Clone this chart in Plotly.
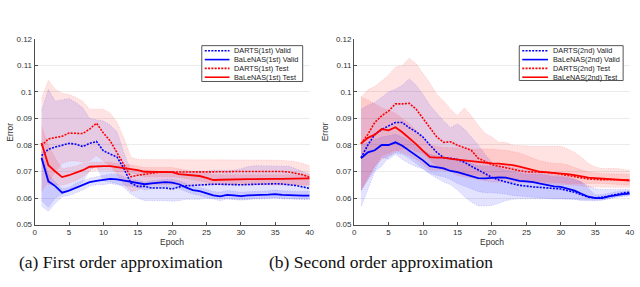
import plotly.graph_objects as go

W, H = 640, 287
epochs = list(range(1, 41))

# ---------------- First order (left) ----------------
darts1_valid = [0.0760,0.0784,0.0792,0.0799,0.0806,0.0803,0.0794,0.0806,0.0813,0.0778,
                0.0765,0.0754,0.0710,0.0656,0.0644,0.0644,0.0638,0.0638,0.0638,0.0634,
                0.0642,0.0646,0.0648,0.0650,0.0651,0.0652,0.0652,0.0651,0.0650,0.0650,
                0.0651,0.0652,0.0653,0.0654,0.0654,0.0653,0.0651,0.0647,0.0642,0.0636]
darts1_valid_hi = [0.093,0.101,0.0965,0.097,0.0975,0.096,0.094,0.090,0.0895,0.089,
                   0.0875,0.085,0.077,0.0705,0.0705,0.0705,0.070,0.070,0.070,0.070,
                   0.070,0.070,0.070,0.070,0.0702,0.0705,0.0705,0.0705,0.0705,0.071,
                   0.0718,0.0722,0.0722,0.0722,0.0722,0.0722,0.072,0.071,0.070,0.069]
darts1_valid_lo = [0.059,0.0565,0.060,0.0615,0.063,0.0645,0.066,0.0705,0.072,0.0665,
                   0.066,0.0655,0.064,0.0615,0.060,0.059,0.059,0.059,0.059,0.0588,
                   0.059,0.0595,0.0595,0.0595,0.0598,0.0598,0.0598,0.0598,0.0595,0.0595,
                   0.0595,0.0598,0.060,0.060,0.060,0.060,0.0598,0.0595,0.0595,0.0595]

bal1_valid = [0.0752,0.0663,0.0645,0.0620,0.0628,0.0638,0.0648,0.0660,0.0665,0.0668,
              0.0672,0.0670,0.0665,0.0660,0.0657,0.0652,0.0655,0.0658,0.0660,0.0658,
              0.0652,0.0640,0.0630,0.0626,0.0618,0.0610,0.0606,0.0612,0.0610,0.0607,
              0.0610,0.0612,0.0612,0.0613,0.0615,0.0612,0.0610,0.0610,0.0609,0.0609]
bal1_valid_hi = [0.0775,0.069,0.066,0.0635,0.064,0.0655,0.0665,0.0675,0.068,0.0685,
                 0.069,0.069,0.068,0.067,0.0668,0.066,0.0665,0.0668,0.067,0.067,
                 0.0665,0.0655,0.0645,0.064,0.0632,0.0625,0.0622,0.0628,0.0626,0.0622,
                 0.0624,0.0626,0.0626,0.0627,0.063,0.0627,0.0625,0.0625,0.0625,0.0625]
bal1_valid_lo = [0.057,0.055,0.058,0.0605,0.061,0.062,0.063,0.0645,0.065,0.065,
                 0.0655,0.065,0.0648,0.0645,0.064,0.063,0.0635,0.064,0.064,0.064,
                 0.0635,0.0625,0.0615,0.061,0.0602,0.0595,0.059,0.0596,0.0594,0.0592,
                 0.0594,0.0596,0.0596,0.0597,0.060,0.0597,0.0595,0.0595,0.0595,0.0595]

darts1_test = [0.0797,0.0823,0.0828,0.0833,0.0845,0.0844,0.0843,0.0860,0.0882,0.0845,
               0.0815,0.0770,0.0724,0.0680,0.0686,0.0690,0.0695,0.0697,0.0698,0.0698,
               0.0697,0.0697,0.0697,0.0698,0.0699,0.0699,0.0699,0.0699,0.0700,0.0700,
               0.0701,0.0701,0.0701,0.0701,0.0701,0.0700,0.0698,0.0694,0.0688,0.0678]
darts1_test_hi = [0.0975,0.1044,0.101,0.0995,0.099,0.098,0.0965,0.0935,0.0935,0.0935,
                  0.092,0.0885,0.0825,0.0755,0.0745,0.0745,0.0745,0.0745,0.0745,0.0745,
                  0.0745,0.0745,0.0745,0.0745,0.0744,0.0743,0.0743,0.0743,0.0743,0.0743,
                  0.0743,0.0743,0.0743,0.0743,0.0743,0.0742,0.074,0.0737,0.073,0.0722]
darts1_test_lo = [0.0625,0.066,0.070,0.073,0.074,0.074,0.0735,0.074,0.076,0.074,
                  0.072,0.069,0.065,0.0625,0.063,0.0645,0.065,0.065,0.065,0.065,
                  0.065,0.065,0.065,0.065,0.065,0.065,0.065,0.065,0.065,0.065,
                  0.065,0.065,0.065,0.065,0.065,0.065,0.065,0.065,0.0648,0.0645]

bal1_test = [0.0808,0.0724,0.0700,0.0679,0.0686,0.0695,0.0705,0.0718,0.0720,0.0720,
             0.0720,0.0716,0.0713,0.0710,0.0705,0.0699,0.0699,0.0699,0.0699,0.0698,
             0.0690,0.0688,0.0686,0.0683,0.0676,0.0668,0.0669,0.0670,0.0670,0.0671,
             0.0671,0.0671,0.0672,0.0672,0.0672,0.0672,0.0673,0.0673,0.0673,0.0674]
bal1_test_hi = [0.087,0.080,0.075,0.071,0.0715,0.072,0.073,0.0735,0.0735,0.0735,
                0.0735,0.073,0.0725,0.0725,0.072,0.0715,0.0715,0.0715,0.0715,0.0715,
                0.071,0.0705,0.070,0.0698,0.0695,0.0688,0.0688,0.0688,0.0688,0.0688,
                0.0688,0.0688,0.0688,0.0688,0.0688,0.0688,0.0688,0.0688,0.0688,0.0688]
bal1_test_lo = [0.0745,0.065,0.065,0.0648,0.0655,0.0665,0.068,0.070,0.0705,0.0705,
                0.0705,0.070,0.070,0.0695,0.069,0.068,0.068,0.068,0.068,0.068,
                0.0678,0.0675,0.067,0.0665,0.066,0.065,0.065,0.065,0.065,0.065,
                0.065,0.065,0.065,0.065,0.065,0.065,0.065,0.065,0.065,0.065]

# ---------------- Second order (right) ----------------
darts2_valid = [0.0752,0.0800,0.0840,0.0858,0.0872,0.0885,0.0885,0.0865,0.0850,0.0830,
                0.0800,0.0772,0.0752,0.0750,0.0745,0.0735,0.0720,0.0705,0.0690,0.0678,
                0.0668,0.0660,0.0654,0.0648,0.0644,0.0642,0.0640,0.0637,0.0636,0.0634,
                0.0628,0.0622,0.0612,0.0603,0.0601,0.0603,0.0608,0.0614,0.0619,0.0622]
darts2_valid_hi = [0.0935,0.095,0.096,0.098,0.100,0.101,0.1025,0.105,0.1025,0.099,
                   0.095,0.092,0.089,0.0865,0.088,0.086,0.083,0.080,0.0765,0.0735,
                   0.0715,0.0705,0.070,0.0695,0.069,0.069,0.069,0.0685,0.068,0.068,
                   0.0675,0.067,0.066,0.0645,0.0635,0.0632,0.0632,0.0632,0.0632,0.0633]
darts2_valid_lo = [0.0565,0.063,0.070,0.072,0.0755,0.077,0.0765,0.075,0.073,0.071,
                   0.069,0.0675,0.066,0.065,0.063,0.0605,0.0585,0.057,0.057,0.0572,
                   0.058,0.059,0.0595,0.0597,0.0598,0.0598,0.0598,0.0598,0.0598,0.0598,
                   0.0597,0.0595,0.059,0.059,0.059,0.0592,0.0597,0.0603,0.0608,0.0612]

bal2_valid = [0.0750,0.0772,0.0780,0.0800,0.0800,0.0810,0.0797,0.0778,0.0762,0.0742,
              0.0720,0.0715,0.0712,0.0702,0.0698,0.0690,0.0682,0.0675,0.0674,0.0676,
              0.0678,0.0677,0.0670,0.0665,0.0663,0.0660,0.0654,0.0648,0.0644,0.0642,
              0.0635,0.0628,0.0616,0.0605,0.0600,0.0600,0.0606,0.0611,0.0615,0.0617]
bal2_valid_hi = [0.080,0.081,0.082,0.083,0.0835,0.084,0.083,0.0815,0.080,0.078,
                 0.0765,0.0758,0.0755,0.075,0.0748,0.074,0.0732,0.0722,0.072,0.072,
                 0.0722,0.0722,0.0715,0.071,0.0705,0.070,0.0695,0.069,0.0688,0.0685,
                 0.068,0.0672,0.066,0.0635,0.0612,0.0612,0.0618,0.0624,0.0626,0.0627]
bal2_valid_lo = [0.0625,0.067,0.0705,0.0755,0.0745,0.0765,0.0745,0.073,0.0718,0.071,
                 0.0695,0.0685,0.068,0.067,0.0655,0.0645,0.0635,0.0625,0.062,0.062,
                 0.0618,0.0615,0.061,0.0607,0.0605,0.0603,0.060,0.0598,0.0596,0.0595,
                 0.0595,0.0595,0.0594,0.0592,0.0592,0.0593,0.0598,0.0604,0.0607,0.0608]

darts2_test = [0.0805,0.0840,0.0885,0.0910,0.0928,0.0955,0.0955,0.0957,0.0935,0.0900,
               0.0868,0.0830,0.0810,0.0812,0.0799,0.0790,0.0780,0.0750,0.0738,0.0726,
               0.0720,0.0714,0.0708,0.0703,0.0699,0.0699,0.0699,0.0697,0.0694,0.0689,
               0.0685,0.0681,0.0676,0.0672,0.0670,0.0669,0.0669,0.0669,0.0669,0.0669]
darts2_test_hi = [0.098,0.1008,0.102,0.104,0.1063,0.1094,0.110,0.1127,0.1106,0.107,
                  0.1033,0.099,0.0966,0.0935,0.091,0.094,0.091,0.0875,0.0844,0.083,
                  0.081,0.081,0.0799,0.0798,0.0796,0.0795,0.0795,0.0795,0.0795,0.0795,
                  0.0785,0.0772,0.0754,0.073,0.0717,0.0711,0.0711,0.0712,0.0708,0.0705]
darts2_test_lo = [0.063,0.067,0.072,0.0745,0.076,0.0775,0.0785,0.079,0.0775,0.077,
                  0.0745,0.072,0.0705,0.070,0.0685,0.068,0.0675,0.067,0.0665,0.066,
                  0.066,0.066,0.066,0.066,0.0658,0.0656,0.0655,0.0655,0.0652,0.065,
                  0.065,0.0648,0.0645,0.0642,0.064,0.064,0.064,0.064,0.064,0.064]

bal2_test = [0.0805,0.0827,0.0839,0.0860,0.0855,0.0867,0.0848,0.0827,0.0803,0.0778,
             0.0754,0.0752,0.0752,0.0748,0.0746,0.0742,0.0739,0.0736,0.0734,0.0731,
             0.0730,0.0728,0.0724,0.0718,0.0711,0.0705,0.0699,0.0697,0.0695,0.0693,
             0.0690,0.0686,0.0681,0.0677,0.0675,0.0673,0.0672,0.0670,0.0667,0.0666]
bal2_test_hi = [0.098,0.097,0.0955,0.094,0.093,0.092,0.090,0.088,0.0855,0.0825,
                0.080,0.0795,0.079,0.079,0.079,0.0788,0.0785,0.0785,0.0785,0.0785,
                0.0782,0.078,0.0775,0.077,0.076,0.075,0.074,0.0735,0.073,0.073,
                0.0725,0.0715,0.0705,0.0698,0.0695,0.0692,0.0692,0.0692,0.0692,0.069]
bal2_test_lo = [0.063,0.068,0.072,0.076,0.077,0.078,0.077,0.076,0.0745,0.0725,
                0.0705,0.0705,0.0705,0.0703,0.070,0.0695,0.069,0.0685,0.068,0.068,
                0.068,0.0678,0.0672,0.0665,0.0662,0.066,0.066,0.066,0.066,0.0658,
                0.0655,0.0655,0.0655,0.0655,0.0655,0.0655,0.0655,0.0652,0.065,0.0648]

y_ticks = [0.05, 0.06, 0.07, 0.08, 0.09, 0.10, 0.11, 0.12]
y_tick_text = ["0.05", "0.06", "0.07", "0.08", "0.09", "0.1", "0.11", "0.12"]
x_ticks = [0, 5, 10, 15, 20, 25, 30, 35, 40]

legend_left = ["DARTS(1st) Valid", "BaLeNAS(1st) Valid", "DARTS(1st) Test", "BaLeNAS(1st) Test"]
legend_right = ["DARTS(2nd) Valid", "BaLeNAS(2nd) Valid", "DARTS(2nd) Test", "BaLeNAS(2nd) Test"]
captions = ["(a) First order approximation", "(b) Second order approximation"]

BLUE = "rgb(0,0,255)"
RED = "rgb(255,0,0)"
BLUE_FILL = "rgba(0,0,255,0.11)"
RED_FILL = "rgba(255,0,0,0.11)"
BLUE_EDGE = "rgba(90,90,255,0.4)"
RED_EDGE = "rgba(255,90,90,0.4)"
DOT = "2px,1.3px"


def px(x):
    return x / W


def py(y):
    return 1 - y / H


fig = go.Figure()


def add_band(xa, ya, hi, lo, fill, edge):
    fig.add_trace(go.Scatter(
        x=epochs + epochs[::-1], y=hi + lo[::-1], xaxis=xa, yaxis=ya,
        fill="toself", fillcolor=fill, mode="lines",
        line=dict(color=edge, width=0.7, dash="1px,1.5px"),
        hoverinfo="skip", showlegend=False))


def add_line(xa, ya, vals, color, dotted):
    fig.add_trace(go.Scatter(
        x=epochs, y=vals, xaxis=xa, yaxis=ya, mode="lines",
        line=dict(color=color, width=1.6 if dotted else 1.8, dash=DOT if dotted else "solid"),
        showlegend=False))


panels = [
    ("x", "y", [(darts1_valid, darts1_valid_hi, darts1_valid_lo, "b", True),
                (bal1_valid, bal1_valid_hi, bal1_valid_lo, "b", False),
                (darts1_test, darts1_test_hi, darts1_test_lo, "r", True),
                (bal1_test, bal1_test_hi, bal1_test_lo, "r", False)]),
    ("x2", "y2", [(darts2_valid, darts2_valid_hi, darts2_valid_lo, "b", True),
                  (bal2_valid, bal2_valid_hi, bal2_valid_lo, "b", False),
                  (darts2_test, darts2_test_hi, darts2_test_lo, "r", True),
                  (bal2_test, bal2_test_hi, bal2_test_lo, "r", False)]),
]

for xa, ya, series in panels:
    for vals, hi, lo, c, dotted in series:
        add_band(xa, ya, hi, lo, BLUE_FILL if c == "b" else RED_FILL,
                 BLUE_EDGE if c == "b" else RED_EDGE)
    for vals, hi, lo, c, dotted in series:
        add_line(xa, ya, vals, BLUE if c == "b" else RED, dotted)

AXC = "#4d4d4d"
TICKF = dict(family="Liberation Sans, Arial, sans-serif", size=8, color="#333333")

plot_top, plot_bot = 36, 227.7
ydom = [py(plot_bot), py(plot_top)]
xdom_l = [px(33), px(311)]
xdom_r = [px(356), px(634.7)]

xcommon = dict(range=[0, 40], tickvals=x_ticks, showgrid=False, zeroline=False,
               showline=True, linecolor=AXC, linewidth=1, ticks="inside", ticklen=3,
               tickcolor=AXC, tickfont=TICKF, ticklabeloverflow="allow")
ycommon = dict(range=[0.05, 0.12], tickvals=y_ticks, ticktext=y_tick_text,
               showgrid=True, gridcolor="#ebebeb", gridwidth=1, zeroline=False,
               showline=True, linecolor=AXC, linewidth=1, ticks="inside", ticklen=3,
               tickcolor=AXC, tickfont=TICKF, ticklabeloverflow="allow")

fig.update_layout(
    width=W, height=H,
    margin=dict(l=0, r=0, t=0, b=0),
    paper_bgcolor="white", plot_bgcolor="white",
    showlegend=False,
    xaxis=dict(domain=xdom_l, anchor="y", **xcommon),
    yaxis=dict(domain=ydom, anchor="x", **ycommon),
    xaxis2=dict(domain=xdom_r, anchor="y2", **xcommon),
    yaxis2=dict(domain=ydom, anchor="x2", **ycommon),
)

annotations = []
shapes = []
LABF = dict(family="Liberation Sans, Arial, sans-serif", size=8.5, color="#333333")

for cx_err, cx_ep in [(8, 172), (326, 495)]:
    annotations.append(dict(x=px(cx_err), y=py(132), xref="paper", yref="paper",
                            text="Error", textangle=-90, showarrow=False, font=LABF,
                            xanchor="center", yanchor="middle"))
    annotations.append(dict(x=px(cx_ep), y=py(246), xref="paper", yref="paper",
                            text="Epoch", showarrow=False, font=LABF,
                            xanchor="center", yanchor="middle"))

CAPF = dict(family="Liberation Serif, Times New Roman, serif", size=17.5, color="#111111")
for cx, txt in [(15, captions[0]), (268, captions[1])]:
    annotations.append(dict(x=px(cx), y=py(266), xref="paper", yref="paper",
                            text=txt, showarrow=False, font=CAPF,
                            xanchor="left", yanchor="middle"))

# manual legends
LEGF = dict(family="Liberation Sans, Arial, sans-serif", size=7.3, color="#222222")
leg_styles = [(BLUE, True), (BLUE, False), (RED, True), (RED, False)]
for (bx0, bx1, by0, by1, lx0, lx1, tx), labels in [
        ((202, 304, 43, 80, 205, 230, 233), legend_left),
        ((523, 628, 43, 79, 526, 552, 555), legend_right)]:
    shapes.append(dict(type="rect", xref="paper", yref="paper",
                       x0=px(bx0), x1=px(bx1), y0=py(by0), y1=py(by1),
                       line=dict(color="#555555", width=1), fillcolor="white"))
    for i, (lab, (col, dotted)) in enumerate(zip(labels, leg_styles)):
        yy = 48.3 + i * 9.1
        shapes.append(dict(type="line", xref="paper", yref="paper",
                           x0=px(lx0), x1=px(lx1), y0=py(yy), y1=py(yy),
                           line=dict(color=col, width=1.6, dash=DOT if dotted else "solid")))
        annotations.append(dict(x=px(tx), y=py(yy), xref="paper", yref="paper",
                                text=lab, showarrow=False, font=LEGF,
                                xanchor="left", yanchor="middle"))

fig.update_layout(annotations=annotations, shapes=shapes)
fig.write_html("out.html", config={"displayModeBar": False},
               post_script="document.body.style.margin='0px';document.body.style.overflow='hidden';")
